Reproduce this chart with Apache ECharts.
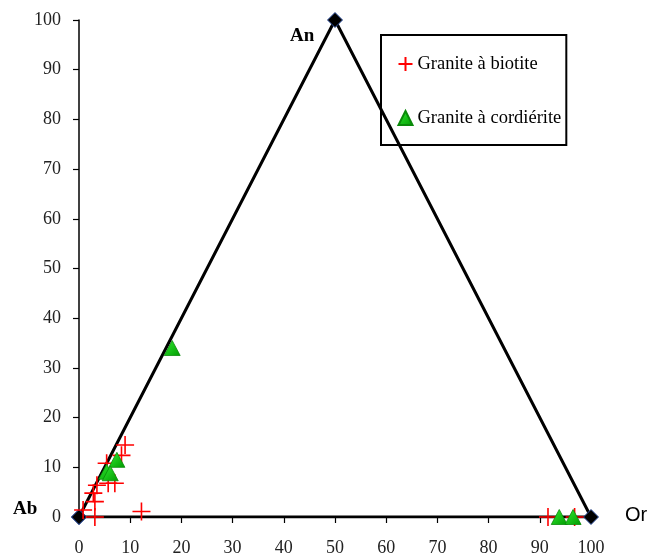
<!DOCTYPE html>
<html>
<head>
<meta charset="utf-8">
<script src="https://cdn.jsdelivr.net/npm/echarts@6/dist/echarts.min.js"></script>
<style>html,body{margin:0;padding:0;background:#fff}#c{width:649px;height:560px}</style>
</head>
<body>
<div id="c"></div>
<script>
// Ternary outline (Ab - An - Or)
const triangleX = [0, 50, 100, 0];
const triangleY = [0, 100, 0, 0];
const vertexNames = ['Ab', 'An', 'Or'];

// Granite à biotite
const biotiteX = [9.0, 8.3, 5.4, 7.0, 5.7, 3.5, 2.8, 3.1, 0.8, 3.1, 12.2, 91.6, 96.8];
const biotiteY = [14.5, 12.4, 10.8, 6.8, 6.8, 6.4, 4.8, 3.1, 1.4, 0, 1.1, 0, 0];

// Granite à cordiérite
const cordieriteX = [18.2, 7.4, 5.4, 6.1, 93.8, 96.5];
const cordieriteY = [34.0, 11.5, 9.1, 8.8, 0, 0];

// Axis ticks
const axisMin = 0, axisMax = 100, axisStep = 10;

const seriesNames = ['Granite à biotite', 'Granite à cordiérite'];

const zip = (a, b) => a.map((v, i) => [v, b[i]]);
const plusPath = 'path://M0,10L20,10M10,0L10,20';
const serif = '"Liberation Serif", "Times New Roman", serif';

const chart = echarts.init(document.getElementById('c'));
chart.setOption({
  animation: false,
  grid: { left: 79, right: 58, top: 20, bottom: 43, containLabel: false },
  xAxis: {
    type: 'value', min: axisMin, max: axisMax, interval: axisStep,
    axisLine: { show: true, onZero: false, lineStyle: { color: '#000', width: 1.5 } },
    axisTick: { show: true, length: 6, lineStyle: { color: '#000', width: 1.2 } },
    splitLine: { show: false },
    axisLabel: { fontFamily: serif, fontSize: 18, color: '#222', margin: 22 }
  },
  yAxis: {
    type: 'value', min: axisMin, max: axisMax, interval: axisStep,
    axisLine: { show: true, lineStyle: { color: '#000', width: 1.5 } },
    axisTick: { show: true, length: 6, lineStyle: { color: '#000', width: 1.2 } },
    splitLine: { show: false },
    axisLabel: { fontFamily: serif, fontSize: 18, color: '#222', margin: 18 }
  },
  legend: {
    left: 381, top: 35,
    orient: 'vertical',
    itemGap: 34,
    itemWidth: 14, itemHeight: 14,
    padding: [19, 5, 17, 15],
    borderColor: '#000', borderWidth: 2,
    textStyle: { fontFamily: serif, fontSize: 18.5, lineHeight: 20, color: '#000' },
    data: [
      { name: seriesNames[0], icon: plusPath, itemStyle: { color: 'none', borderColor: '#ff0000', borderWidth: 2 } },
      { name: seriesNames[1], icon: 'triangle' }
    ]
  },
  series: [
    {
      type: 'line', name: 'outline',
      data: zip(triangleX, triangleY),
      lineStyle: { color: '#000', width: 3 },
      symbol: 'diamond', symbolSize: 15, showAllSymbol: true,
      itemStyle: { color: '#000', borderColor: '#2d4f9e', borderWidth: 1 },
      z: 2, silent: true
    },
    {
      type: 'scatter', name: seriesNames[0],
      data: zip(biotiteX, biotiteY),
      symbol: plusPath, symbolSize: 18,
      itemStyle: { color: 'none', borderColor: '#ff0000', borderWidth: 1.6, opacity: 1 },
      z: 4
    },
    {
      type: 'scatter', name: seriesNames[1],
      data: zip(cordieriteX, cordieriteY),
      symbol: 'triangle', symbolSize: [16, 15],
      itemStyle: {
        color: new echarts.graphic.LinearGradient(0, 0, 1, 1, [
          { offset: 0, color: '#33ee33' }, { offset: 1, color: '#009900' }
        ]),
        borderColor: '#0a8a0a', borderWidth: 0.8, opacity: 1
      },
      z: 5
    }
  ],
  graphic: [
    { type: 'text', left: 290, top: 27, style: { text: vertexNames[1], font: 'bold 19px ' + serif, fill: '#000' } },
    { type: 'text', left: 13, top: 500, style: { text: vertexNames[0], font: 'bold 19px ' + serif, fill: '#000' } },
    { type: 'text', left: 625, top: 505, style: { text: vertexNames[2], font: '20px "Liberation Sans", Arial, sans-serif', fill: '#000' } }
  ]
});
</script>
</body>
</html>
